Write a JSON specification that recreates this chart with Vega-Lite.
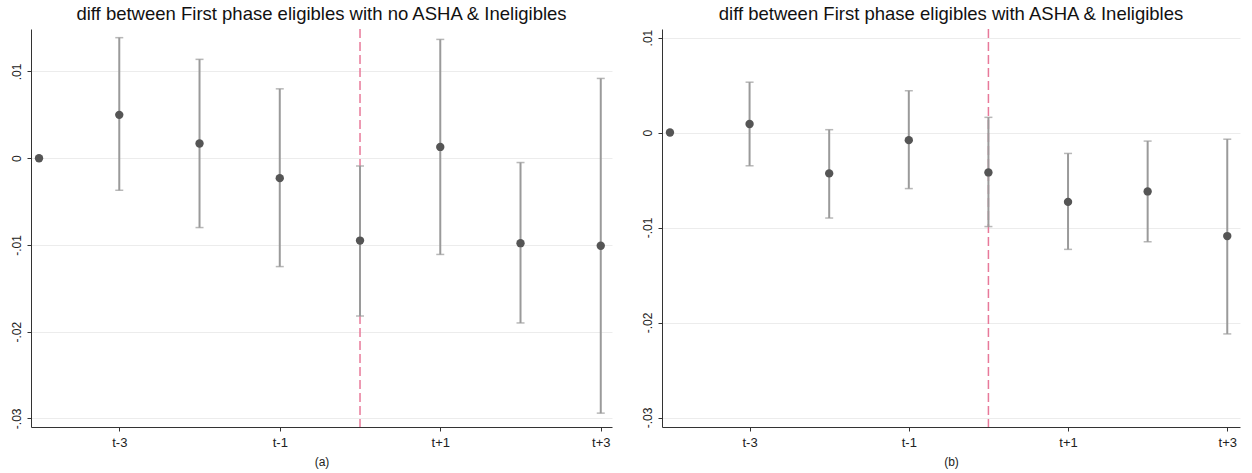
{
  "$schema": "https://vega.github.io/schema/vega-lite/v6.json",
  "padding": {"left": 0, "right": 12, "top": 4, "bottom": 6},
  "config": {
    "view": {"stroke": null},
    "font": "Liberation Sans",
    "concat": {"spacing": 19},
    "axis": {
      "domainColor": "#333333",
      "tickColor": "#333333",
      "tickSize": 4,
      "labelFontSize": 12,
      "labelColor": "#222222",
      "gridColor": "#ececec",
      "titleFontWeight": "normal",
      "titleFontSize": 12,
      "titleColor": "#222222"
    },
    "title": {"fontSize": 18.5, "fontWeight": "normal", "color": "#111111", "offset": 5}
  },
  "datasets": {
    "a": [
      {"t": -4, "est": 0},
      {"t": -3, "est": 0.0050, "lo": -0.0037, "hi": 0.0139},
      {"t": -2, "est": 0.0017, "lo": -0.0080, "hi": 0.0114},
      {"t": -1, "est": -0.0023, "lo": -0.0125, "hi": 0.0080},
      {"t": 0, "est": -0.0095, "lo": -0.0182, "hi": -0.0009},
      {"t": 1, "est": 0.0013, "lo": -0.0111, "hi": 0.0137},
      {"t": 2, "est": -0.0098, "lo": -0.0190, "hi": -0.0005},
      {"t": 3, "est": -0.0101, "lo": -0.0294, "hi": 0.0092}
    ],
    "b": [
      {"t": -4, "est": 0},
      {"t": -3, "est": 0.0009, "lo": -0.0035, "hi": 0.0053},
      {"t": -2, "est": -0.0043, "lo": -0.0090, "hi": 0.0003},
      {"t": -1, "est": -0.0008, "lo": -0.0059, "hi": 0.0044},
      {"t": 0, "est": -0.0042, "lo": -0.0099, "hi": 0.0016},
      {"t": 1, "est": -0.0073, "lo": -0.0123, "hi": -0.0022},
      {"t": 2, "est": -0.0062, "lo": -0.0115, "hi": -0.0009},
      {"t": 3, "est": -0.0109, "lo": -0.0212, "hi": -0.0007}
    ],
    "vline": [{"t": 0}]
  },
  "hconcat": [
    {
      "width": 581,
      "height": 398,
      "title": "diff between First phase eligibles with no ASHA & Ineligibles",
      "encoding": {
        "x": {
          "field": "t", "type": "quantitative",
          "scale": {"domain": [-4.1, 3.14], "nice": false, "zero": false},
          "axis": {"values": [-3, -1, 1, 3], "grid": false, "title": "(a)", "labelFontSize": 13, "labelPadding": 5, "titlePadding": 7,
                   "labelExpr": "datum.value < 0 ? 't' + datum.value : 't+' + datum.value"}
        }
      },
      "layer": [
        {
          "data": {"name": "vline"},
          "mark": {"type": "rule", "color": "#e8799a", "strokeDash": [9, 4], "strokeWidth": 1.5},
          "encoding": {}
        },
        {
          "data": {"name": "a"},
          "transform": [{"filter": "isValid(datum.lo)"}],
          "mark": {"type": "errorbar", "ticks": {"size": 8, "color": "#9a9a9a", "thickness": 1.5}, "rule": {"strokeWidth": 2, "color": "#9a9a9a"}},
          "encoding": {
            "y": {"field": "lo", "type": "quantitative",
                  "scale": {"domain": [-0.031, 0.0149], "nice": false, "zero": false},
                  "axis": {"values": [0.01, 0, -0.01, -0.02, -0.03], "grid": true, "title": null, "labelAngle": -90, "labelPadding": 4, "minExtent": 31, "maxExtent": 31,
                           "labelExpr": "datum.value > 0.005 ? '.01' : datum.value > -0.005 ? '0' : datum.value > -0.015 ? '-.01' : datum.value > -0.025 ? '-.02' : '-.03'"}},
            "y2": {"field": "hi"}
          }
        },
        {
          "data": {"name": "a"},
          "mark": {"type": "point", "filled": true, "size": 70, "color": "#555555", "opacity": 1},
          "encoding": {"y": {"field": "est", "type": "quantitative"}}
        }
      ]
    },
    {
      "width": 578,
      "height": 398,
      "title": "diff between First phase eligibles with ASHA & Ineligibles",
      "encoding": {
        "x": {
          "field": "t", "type": "quantitative",
          "scale": {"domain": [-4.1, 3.16], "nice": false, "zero": false},
          "axis": {"values": [-3, -1, 1, 3], "grid": false, "title": "(b)", "labelFontSize": 13, "labelPadding": 5, "titlePadding": 7,
                   "labelExpr": "datum.value < 0 ? 't' + datum.value : 't+' + datum.value"}
        }
      },
      "layer": [
        {
          "data": {"name": "vline"},
          "mark": {"type": "rule", "color": "#e8799a", "strokeDash": [9, 4], "strokeWidth": 1.5},
          "encoding": {}
        },
        {
          "data": {"name": "b"},
          "transform": [{"filter": "isValid(datum.lo)"}],
          "mark": {"type": "errorbar", "ticks": {"size": 8, "color": "#9a9a9a", "thickness": 1.5}, "rule": {"strokeWidth": 2, "color": "#9a9a9a"}},
          "encoding": {
            "y": {"field": "lo", "type": "quantitative",
                  "scale": {"domain": [-0.031, 0.0109], "nice": false, "zero": false},
                  "axis": {"values": [0.01, 0, -0.01, -0.02, -0.03], "grid": true, "title": null, "labelAngle": -90, "labelPadding": 4, "minExtent": 31, "maxExtent": 31,
                           "labelExpr": "datum.value > 0.005 ? '.01' : datum.value > -0.005 ? '0' : datum.value > -0.015 ? '-.01' : datum.value > -0.025 ? '-.02' : '-.03'"}},
            "y2": {"field": "hi"}
          }
        },
        {
          "data": {"name": "b"},
          "mark": {"type": "point", "filled": true, "size": 70, "color": "#555555", "opacity": 1},
          "encoding": {"y": {"field": "est", "type": "quantitative"}}
        }
      ]
    }
  ]
}
